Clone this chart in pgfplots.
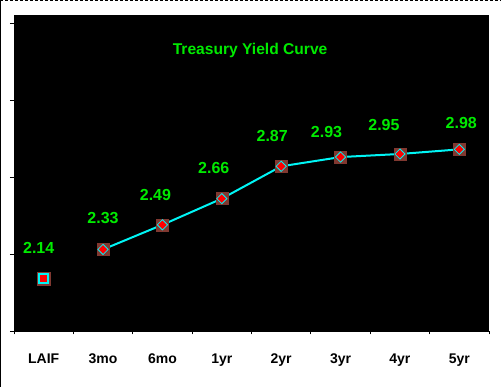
\documentclass[border=0pt]{standalone}
\usepackage{pgfplots}
\pgfplotsset{compat=1.18}
\usepackage{pgfplotstable}
\usepackage{fontspec}
\setmainfont{Liberation Sans}
\definecolor{lblgreen}{RGB}{0,235,0}
\definecolor{mkbrown}{RGB}{128,56,48}
\definecolor{cyanline}{RGB}{0,245,245}
\pgfplotstableread{
x y dx dy lab
1 2.33 0 -31 2.33
2 2.49 -7 -30 2.49
3 2.66 -8 -31 2.66
4 2.87 -9 -30 2.87
5 2.93 -14 -25 2.93
6 2.95 -16 -29 2.95
7 2.98 2 -26 2.98
}\curve
\pgfplotstableread{
x y dx dy lab
0 2.14 -5 -31 2.14
}\laif
\begin{document}
\begin{tikzpicture}[x=1pt,y=1pt]
\useasboundingbox (0,0) rectangle (501,387);
\fill[white] (0,0) rectangle (501,387);
\draw[black, line width=1.2pt] (0.6,0) -- (0.6,387);
\draw[black, dashed, line width=1pt, dash pattern=on 3pt off 2pt] (0,386.5) -- (501,386.5);
\begin{axis}[
  at={(14pt,56pt)}, anchor=south west,
  scale only axis, width=475pt, height=316pt,
  xmin=-0.5, xmax=7.5, ymin=1.8, ymax=3.853,
  axis background/.style={fill=black},
  axis line style={black, line width=0.8pt},
  axis x line*=bottom, axis y line*=left,
  xtick={0,...,7},
  xticklabels={LAIF,3mo,6mo,1yr,2yr,3yr,4yr,5yr},
  minor xtick={-0.5,0.5,...,7.5},
  ytick={1.8,2.3,2.8,3.3,3.8},
  yticklabels={},
  major tick length=0pt,
  minor tick length=3.5pt,
  tick align=outside,
  ytick style={black, line width=0.8pt, /pgfplots/major tick length=4pt},
  xtick style={black, line width=0.8pt},
  xticklabel style={font=\bfseries\fontsize{14}{14}\selectfont, yshift=-19pt},
  title={Treasury Yield Curve},
  title style={at={(axis description cs:0.497,0.87)}, anchor=center,
    font=\bfseries\fontsize{15.6}{15.6}\selectfont, text=lblgreen},
  clip=false,
]
% LAIF marker
\addplot[only marks, mark=square*, mark size=6.5pt,
  mark options={fill=mkbrown, draw=mkbrown}] table[x=x,y=y] {\laif};
\addplot[only marks, mark=square*, mark size=4.5pt,
  mark options={fill=red, draw=cyanline, line width=1.5pt},
  nodes near coords, point meta=explicit symbolic,
  visualization depends on={\thisrow{dx} \as \dx},
  visualization depends on={\thisrow{dy} \as \dy},
  every node near coord/.append style={anchor=center, xshift=\dx pt, yshift=-\dy pt,
    font=\bfseries\fontsize{16}{16}\selectfont, text=lblgreen}]
  table[x=x,y=y,meta=lab] {\laif};
% curve
\addplot[only marks, mark=square*, mark size=6pt,
  mark options={fill=mkbrown, draw=mkbrown}] table[x=x,y=y] {\curve};
\addplot[cyanline, line width=2pt, mark=square*, mark size=3.6pt,
  mark options={fill=red, draw=cyanline, line width=0.8pt, rotate=45},
  nodes near coords, point meta=explicit symbolic,
  visualization depends on={\thisrow{dx} \as \dx},
  visualization depends on={\thisrow{dy} \as \dy},
  every node near coord/.append style={anchor=center, xshift=\dx pt, yshift=-\dy pt,
    font=\bfseries\fontsize{16}{16}\selectfont, text=lblgreen}]
  table[x=x,y=y,meta=lab] {\curve};
\end{axis}
\end{tikzpicture}
\end{document}
